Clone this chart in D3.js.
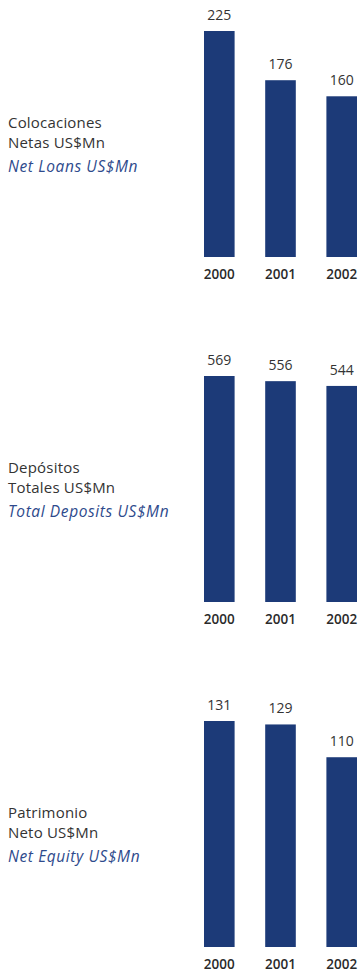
<!DOCTYPE html>
<html>
<head>
<meta charset="utf-8">
<script src="https://cdn.jsdelivr.net/npm/d3@7"></script>
<style>
  body { margin: 0; background: #fff; }
  svg text { font-family: "Open Sans", "Noto Sans", sans-serif; }
</style>
</head>
<body>
<div id="chart"></div>
<script>
var years = ["2000", "2001", "2002"];

var loans = [225, 176, 160];
var deposits = [569, 556, 544];
var equity = [131, 129, 110];

var titlesEs = [["Colocaciones", "Netas US$Mn"], ["Depósitos", "Totales US$Mn"], ["Patrimonio", "Neto US$Mn"]];
var titlesEn = ["Net Loans US$Mn", "Total Deposits US$Mn", "Net Equity US$Mn"];

var series = [loans, deposits, equity];

var width = 358,
  height = 975,
  panelHeight = 345,
  baseline = 257,
  barMax = 226,
  barColor = "#1c3a78",
  enColor = "#2e4a8c",
  textColor = "#333";

var svg = d3.select("#chart").append("svg")
  .attr("width", width)
  .attr("height", height);

var x = d3.scaleBand()
  .domain(years)
  .range([204, 357])
  .paddingInner(0.5)
  .paddingOuter(0);

series.forEach(function(values, k) {
  var g = svg.append("g")
    .attr("transform", "translate(0," + (k * panelHeight) + ")");

  var y = d3.scaleLinear()
    .domain([0, d3.max(values)])
    .range([baseline, baseline - barMax]);

  g.selectAll(".bar")
    .data(values)
    .enter().append("rect")
      .attr("class", "bar")
      .attr("x", function(d, i) { return x(years[i]); })
      .attr("y", function(d) { return y(d); })
      .attr("width", x.bandwidth())
      .attr("height", function(d) { return y(0) - y(d); })
      .style("fill", barColor);

  g.selectAll(".val")
    .data(values)
    .enter().append("text")
      .attr("class", "val")
      .text(function(d) { return d; })
      .attr("x", function(d, i) { return x(years[i]) + x.bandwidth() / 2; })
      .attr("y", function(d) { return y(d) - 11; })
      .style("text-anchor", "middle")
      .style("font-size", "14px")
      .style("fill", textColor);

  // year axis, no line or ticks
  var axis = g.append("g")
    .attr("transform", "translate(0," + baseline + ")")
    .call(d3.axisBottom(x).tickSize(0).tickPadding(12));
  axis.select(".domain").remove();
  axis.selectAll("text")
    .style("font-family", "'Open Sans', sans-serif")
    .style("font-size", "13.5px")
    .style("font-weight", "600")
    .style("fill", "#2a2a2a");

  g.selectAll(".title")
    .data(titlesEs[k])
    .enter().append("text")
      .attr("class", "title")
      .text(function(d) { return d; })
      .attr("x", 8)
      .attr("y", function(d, i) { return 128 + i * 20; })
      .style("font-size", "15px")
      .style("letter-spacing", "0.2px")
      .style("fill", textColor);

  g.append("text")
    .text(titlesEn[k])
    .attr("x", 8)
    .attr("y", 172)
    .style("font-size", "15.5px")
    .style("font-style", "italic")
    .style("letter-spacing", "0.6px")
    .style("fill", enColor);
});
</script>
</body>
</html>
